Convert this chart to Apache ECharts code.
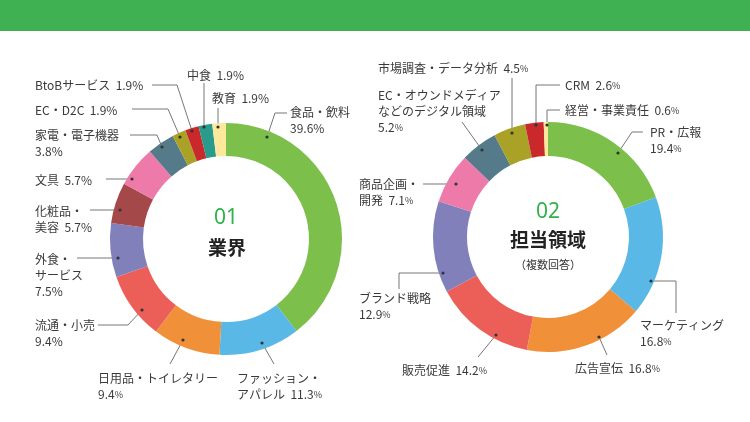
<!DOCTYPE html>
<html>
<head>
<meta charset="utf-8">
<script src="https://cdn.jsdelivr.net/npm/echarts@6/dist/echarts.min.js"></script>
<style>
  html, body { margin: 0; padding: 0; background: #fff; }
  #chart { width: 750px; height: 422px; }
</style>
</head>
<body>
<div id="chart"></div>
<script>
// 01 業界
const industryNames = ['食品・飲料', 'ファッション・\nアパレル', '日用品・トイレタリー', '流通・小売', '外食・\nサービス',
  '化粧品・\n美容', '文具', '家電・電子機器', 'EC・D2C', 'BtoBサービス', '中食', '教育'];
const industryValues = [39.6, 11.3, 9.4, 9.4, 7.5, 5.7, 5.7, 3.8, 1.9, 1.9, 1.9, 1.9];

// 02 担当領域
const areaNames = ['PR・広報', 'マーケティング', '広告宣伝', '販売促進', 'ブランド戦略', '商品企画・\n開発',
  'EC・オウンドメディア\nなどのデジタル領域', '市場調査・データ分析', 'CRM', '経営・事業責任'];
const areaValues = [19.4, 16.8, 16.8, 14.2, 12.9, 7.1, 5.2, 4.5, 2.6, 0.6];

const industryColors = ['#7cbf4a', '#5ab8e6', '#f0913a', '#eb5f58', '#8280bb', '#a5484a',
  '#ee7aa9', '#557b8b', '#a9a227', '#c9292b', '#2a9a8c', '#fde89c'];
const areaColors = ['#7cbf4a', '#5ab8e6', '#f0913a', '#eb5f58', '#8280bb', '#ee7aa9',
  '#557b8b', '#a9a227', '#c9292b', '#fde89c'];

// label placement: text start (x, first line middle y), leader line points, value on new line?, small %?
const industryLabels = [
  { at: [290, 112], pts: [[267, 137], [275, 113], [287, 113]], br: true },
  { at: [237, 378], pts: [[262, 343], [274, 364], [274, 364]], br: false, small: true },
  { at: [98, 378], pts: [[183, 340], [170, 364], [170, 364]], br: true, small: true },
  { at: [35, 325], pts: [[142, 310], [128, 325], [98, 325]], br: true },
  { at: [35, 259], pts: [[118, 258], [77, 258], [77, 258]], br: true },
  { at: [35, 211], pts: [[120, 210], [90, 210], [90, 210]], br: false },
  { at: [35, 180], pts: [[132, 179], [106, 179], [106, 179]], br: false },
  { at: [35, 135], pts: [[162, 147], [157, 135], [130, 135]], br: true },
  { at: [35, 110], pts: [[180, 137], [168, 109], [132, 109]], br: false },
  { at: [35, 85], pts: [[192, 131], [177, 85], [152, 85]], br: false },
  { at: [187, 75], pts: [[204, 127], [204, 83], [204, 83]], br: false },
  { at: [212, 98], pts: [[218, 127], [218, 108], [218, 108]], br: false }
];
const areaLabels = [
  { at: [650, 132], pts: [[618, 153], [632, 132], [643, 132]], br: true, small: true },
  { at: [640, 325], pts: [[651, 281], [676, 281], [676, 313]], br: true, small: true },
  { at: [575, 368], pts: [[599, 337], [607, 355], [607, 355]], br: false, small: true },
  { at: [402, 370], pts: [[496, 335], [478, 357], [478, 357]], br: false, small: true },
  { at: [359, 298], pts: [[443, 273], [399, 273], [399, 289]], br: true, small: true },
  { at: [359, 184], pts: [[456, 184], [423, 184], [423, 184]], br: false, small: true },
  { at: [378, 95], pts: [[482, 150], [462, 122], [462, 122]], br: true, small: true },
  { at: [378, 68], pts: [[512, 133], [512, 78], [512, 78]], br: false, small: true },
  { at: [565, 85], pts: [[536, 125], [536, 85], [560, 85]], br: false, small: true },
  { at: [565, 110], pts: [[547, 125], [547, 110], [560, 110]], br: false, small: true }
];

const FONT = '"Noto Sans CJK JP", "Noto Sans", sans-serif';
const LH = 16;

function makeFormatter(labels) {
  return function (p) {
    const L = labels[p.dataIndex];
    const lines = p.name.split('\n').map(s => '{t|' + s + '}');
    const val = '{t|' + p.value.toFixed(1) + '}' + (L.small ? '{s|%}' : '{t|%}');
    if (L.br) {
      lines.push(val);
    } else {
      lines[lines.length - 1] += '{t|  }' + val;
    }
    return lines.join('\n');
  };
}

function makeLayout(labels) {
  return function (params) {
    const L = labels[params.dataIndex];
    return {
      x: L.at[0],
      y: L.at[1] - LH / 2,
      align: 'left',
      verticalAlign: 'top',
      labelLinePoints: L.pts
    };
  };
}

function pieSeries(names, values, colors, labels, center, radius) {
  return {
    type: 'pie',
    center: center,
    radius: radius,
    startAngle: 90,
    clockwise: true,
    silent: true,
    avoidLabelOverlap: false,
    data: names.map((n, i) => ({ name: n, value: values[i], itemStyle: { color: colors[i] } })),
    label: {
      show: true,
      position: 'outside',
      formatter: makeFormatter(labels),
      rich: {
        t: { fontFamily: FONT, fontSize: 12, color: '#3a3a3a', lineHeight: LH },
        s: { fontFamily: FONT, fontSize: 9, color: '#3a3a3a', lineHeight: LH, padding: [2, 0, 0, 0] }
      }
    },
    labelLine: { show: true, lineStyle: { color: '#777', width: 1 } },
    labelLayout: makeLayout(labels),
    z: 2
  };
}

function dots(labels) {
  return labels.map(L => ({
    type: 'circle',
    shape: { cx: L.pts[0][0], cy: L.pts[0][1], r: 1.6 },
    style: { fill: '#333' },
    z: 100
  }));
}

const chart = echarts.init(document.getElementById('chart'));
chart.setOption({
  animation: false,
  backgroundColor: '#fff',
  graphic: [
    { type: 'rect', shape: { x: 0, y: 0, width: 750, height: 31 }, style: { fill: '#40b153' }, z: 0 },
    { type: 'text', style: { text: '01', x: 226, y: 218, textAlign: 'center', textVerticalAlign: 'middle',
      font: '21px "Noto Sans", sans-serif', fill: '#2fb24a' }, z: 100 },
    { type: 'text', style: { text: '業界', x: 227, y: 248, textAlign: 'center', textVerticalAlign: 'middle',
      font: 'bold 19px ' + FONT, fill: '#222' }, z: 100 },
    { type: 'text', style: { text: '02', x: 548, y: 212, textAlign: 'center', textVerticalAlign: 'middle',
      font: '21px "Noto Sans", sans-serif', fill: '#2fb24a' }, z: 100 },
    { type: 'text', style: { text: '担当領域', x: 548, y: 240, textAlign: 'center', textVerticalAlign: 'middle',
      font: 'bold 19px ' + FONT, fill: '#222' }, z: 100 },
    { type: 'text', style: { text: '（複数回答）', x: 548, y: 265, textAlign: 'center', textVerticalAlign: 'middle',
      font: '11px ' + FONT, fill: '#333' }, z: 100 }
  ].concat(dots(industryLabels), dots(areaLabels)),
  series: [
    pieSeries(industryNames, industryValues, industryColors, industryLabels, [226, 239], [83, 116]),
    pieSeries(areaNames, areaValues, areaColors, areaLabels, [548, 237], [81, 115])
  ]
});
</script>
</body>
</html>
